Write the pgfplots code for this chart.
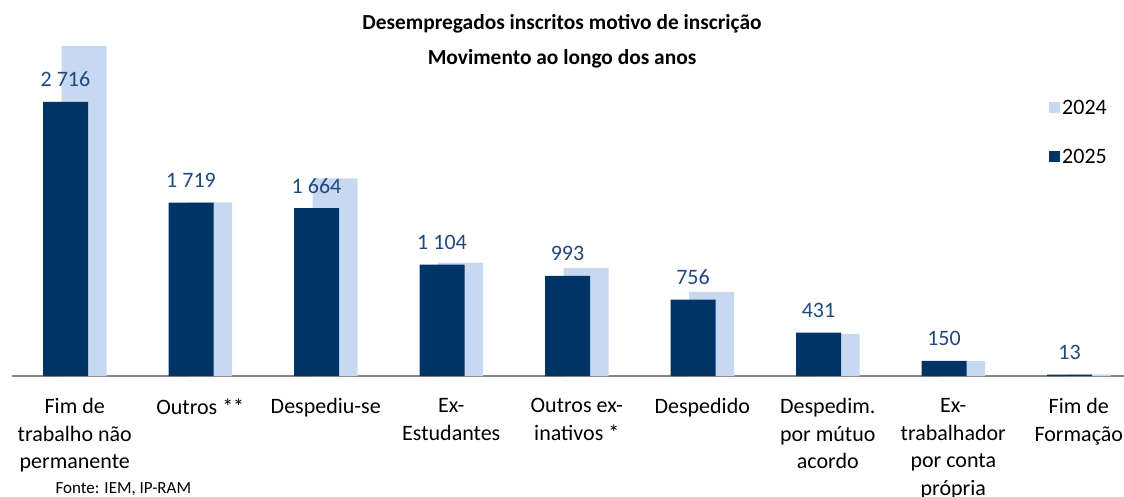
\documentclass[border=0pt]{standalone}
\usepackage{pgfplots}
\pgfplotsset{compat=1.18}
\usepackage{fontspec}
\setmainfont{Carlito}
\definecolor{navy}{RGB}{0,51,102}
\definecolor{lightb}{RGB}{198,217,241}
\definecolor{lblc}{RGB}{31,73,125}
\definecolor{axgray}{RGB}{134,134,134}
\begin{document}
\begin{tikzpicture}[x=1pt,y=1pt]
\path[use as bounding box] (0,0) rectangle (1124,496);
\node[font=\fontsize{21.4}{25}\selectfont\bfseries] at (562,472) {Desempregados inscritos motivo de inscrição};
\node[font=\fontsize{21.4}{25}\selectfont\bfseries] at (562,437) {Movimento ao longo dos anos};
\begin{axis}[
  at={(12pt,120pt)}, anchor=south west,
  scale only axis, width=1112pt, height=373.3pt,
  xmin=-0.5, xmax=8.36, ymin=0, ymax=3700,
  axis x line*=bottom, hide y axis,
  axis line style={draw=axgray, line width=1.3pt, -},
  x axis line style={-},
  xtick={0,...,8}, major tick length=0,
  xticklabels={{Fim de\\trabalho não\\permanente},{Outros **},{Despediu-se},{Ex-\\Estudantes},{Outros ex-\\inativos *},{Despedido},{Despedim.\\por mútuo\\acordo},{Ex-\\trabalhador\\por conta\\própria},{Fim de\\Formação}},
  xticklabel style={align=center, font=\fontsize{22}{27.5}\selectfont, text=black, yshift=-19pt},
  ybar, bar width=45pt,
  legend style={draw=none, fill=none, at={(1046pt-12pt,243.5pt)}, anchor=west, font=\fontsize{22}{26}\selectfont, row sep=29pt, legend cell align=left},
  legend image code/.code={\fill[#1] (0pt,-5pt) rectangle (11pt,6pt);},
]
\addplot[fill=lightb, draw=none, bar shift=9.25pt] coordinates {
 (0,3271) (1,1720) (2,1958) (3,1124) (4,1071) (5,833) (6,418) (7,148) (8,16)};
\addlegendentry{2024}
\addplot[fill=navy, draw=none, bar shift=-9.25pt,
  point meta=explicit symbolic, nodes near coords,
  every node near coord/.append style={anchor=base, yshift=15pt, text=lblc, font=\fontsize{22}{26}\selectfont}]
 coordinates {
 (0,2716) [2 716] (1,1719) [1 719] (2,1664) [1 664] (3,1104) [1 104] (4,993) [993] (5,756) [756] (6,431) [431] (7,150) [150] (8,13) [13]};
\addlegendentry{2025}
\end{axis}
\node[anchor=base west, font=\fontsize{17}{20}\selectfont] at (52,3) {Fonte: IEM, IP-RAM};
\end{tikzpicture}
\end{document}
